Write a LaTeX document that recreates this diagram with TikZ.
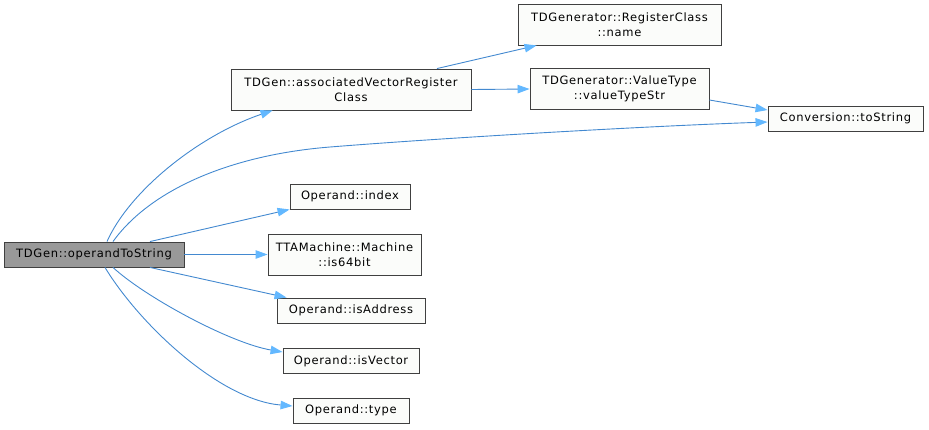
\documentclass[tikz,border=0pt]{standalone}
\usepackage{fontspec}
\setmainfont{DejaVu Sans}[LetterSpace=6]
\usetikzlibrary{arrows.meta}
\definecolor{edgeblue}{HTML}{63B8FF}
\definecolor{edgeline}{HTML}{4389D0}
\definecolor{nodefill}{HTML}{FBFCFA}
\definecolor{nodeborder}{HTML}{404040}
\definecolor{mainfill}{HTML}{999999}
\tikzset{
  box/.style={draw=nodeborder, fill=nodefill, line width=0.9pt, inner sep=0pt, align=center,
    font=\fontsize{11.5}{14.5}\selectfont, text=black},
  mainbox/.style={box, fill=mainfill},
  edge/.style={draw=edgeline, line width=0.9pt, -{Triangle[length=12pt,width=8.5pt,color=edgeblue,fill=edgeblue]}},
}
\begin{document}
\begin{tikzpicture}[x=1pt,y=-1pt]
\useasboundingbox (0,0) rectangle (929,429);
\node[mainbox, minimum width=180pt, minimum height=25pt] (main) at (94,254.5) {TDGen::operandToString};
\node[box, minimum width=240pt, minimum height=41pt] (assoc) at (351,89.5) {TDGen::associatedVectorRegister\\Class};
\node[box, minimum width=203pt, minimum height=41pt] (rcname) at (619.5,24.5) {TDGenerator::RegisterClass\\::name};
\node[box, minimum width=179pt, minimum height=41pt] (vts) at (619.5,89) {TDGenerator::ValueType\\::valueTypeStr};
\node[box, minimum width=155pt, minimum height=25pt] (conv) at (845.5,118.5) {Conversion::toString};
\node[box, minimum width=120pt, minimum height=25pt] (idx) at (350,196.5) {Operand::index};
\node[box, minimum width=153pt, minimum height=41pt] (is64) at (344.5,254.5) {TTAMachine::Machine\\::is64bit};
\node[box, minimum width=148pt, minimum height=25pt] (isaddr) at (351,310.5) {Operand::isAddress};
\node[box, minimum width=136pt, minimum height=25pt] (isvec) at (351,361) {Operand::isVector};
\node[box, minimum width=116pt, minimum height=25pt] (type) at (351,410.5) {Operand::type};

\draw[edge] ([xshift=13pt]main.north) .. controls (130,190) and (200,135) .. ([xshift=42pt]assoc.south west);
\draw[edge] ([xshift=19pt]main.north) .. controls (150,190) and (230,155) .. (330,147) .. controls (450,137.4) and (650,126) .. ([yshift=-3.5pt]conv.west);
\draw[edge] ([xshift=56pt]main.north) -- (idx.south west);
\draw[edge] (main.east) -- (is64.west);
\draw[edge] ([xshift=56pt]main.south) -- ([xshift=10pt]isaddr.north west);
\draw[edge] ([xshift=19pt]main.south) .. controls (145,297) and (230,343) .. ([yshift=9pt]isvec.west);
\draw[edge] ([xshift=11pt]main.south) .. controls (140,325) and (220,400) .. ([yshift=4.5pt]type.west);
\draw[edge] ([xshift=86pt]assoc.north) -- ([xshift=19pt]rcname.south west);
\draw[edge] (assoc.east) -- (vts.west);
\draw[edge] ([yshift=-11pt]vts.east) -- ([yshift=8.5pt]conv.west);
\end{tikzpicture}
\end{document}
